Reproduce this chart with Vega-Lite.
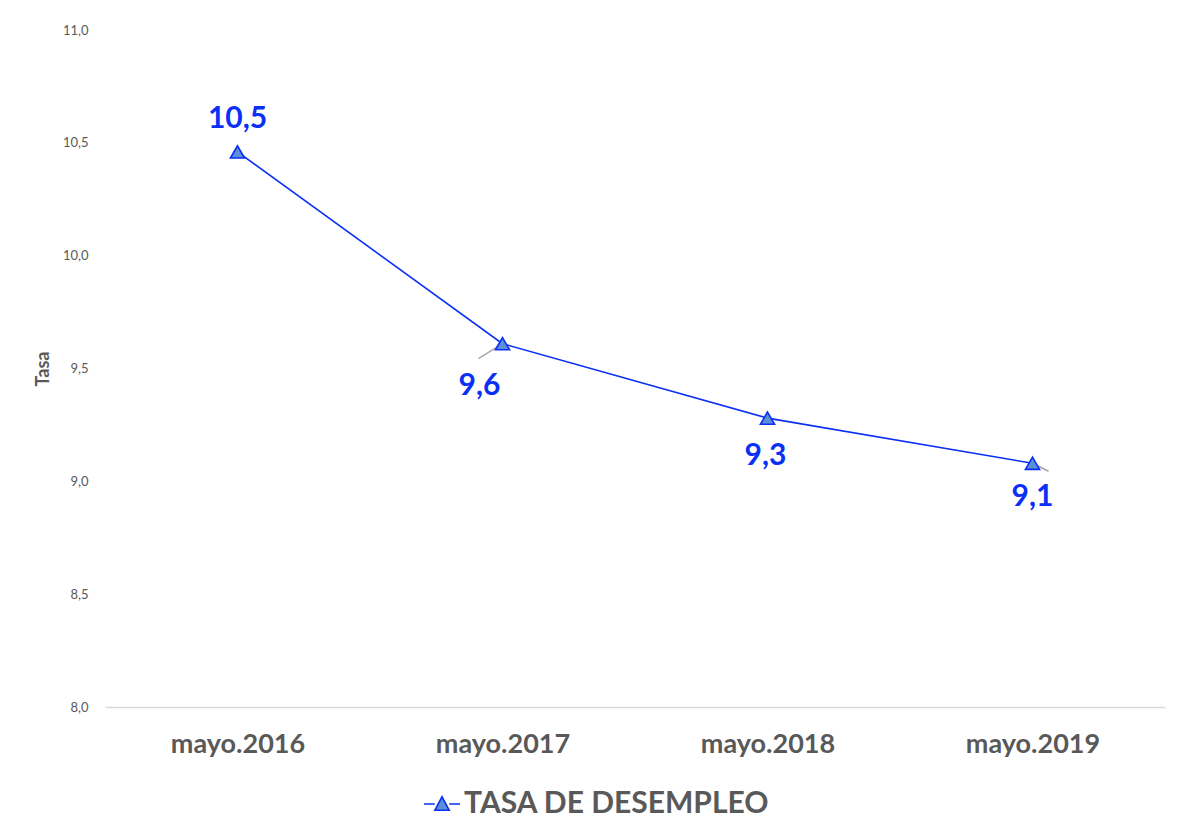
{
  "$schema": "https://vega.github.io/schema/vega-lite/v6.json",
  "width": 1060,
  "height": 677,
  "autosize": {"type": "none"},
  "padding": {"left": 105, "top": 30, "right": 12, "bottom": 126},
  "background": "white",
  "config": {
    "locale": {"number": {"decimal": ",", "thousands": ".", "grouping": [3], "currency": ["", " €"]}},
    "view": {"stroke": null},
    "font": "Lato"
  },
  "data": {
    "values": [
      {"periodo": "mayo.2016", "tasa": 10.46, "serie": "TASA DE DESEMPLEO"},
      {"periodo": "mayo.2017", "tasa": 9.61, "serie": "TASA DE DESEMPLEO"},
      {"periodo": "mayo.2018", "tasa": 9.28, "serie": "TASA DE DESEMPLEO"},
      {"periodo": "mayo.2019", "tasa": 9.08, "serie": "TASA DE DESEMPLEO"}
    ]
  },
  "encoding": {
    "x": {
      "field": "periodo", "type": "nominal", "sort": null,
      "scale": {"type": "point", "padding": 0.5},
      "axis": {
        "title": null, "labelAngle": 0, "ticks": false, "grid": false,
        "domainColor": "#D9D9D9", "domainWidth": 1.5,
        "labelFont": "Lato", "labelFontWeight": "bold", "labelFontSize": 27,
        "labelColor": "#595959", "labelPadding": 24
      }
    },
    "y": {
      "field": "tasa", "type": "quantitative",
      "scale": {"domain": [8, 11], "nice": false, "zero": false},
      "axis": {
        "title": "Tasa", "values": [8, 8.5, 9, 9.5, 10, 10.5, 11], "format": ".1f",
        "grid": false, "domain": false, "ticks": false,
        "labelFont": "Lato", "labelFontSize": 13, "labelColor": "#595959", "labelPadding": 17,
        "titleFont": "Lato", "titleFontWeight": "bold", "titleFontSize": 18, "titleColor": "#595959", "titlePadding": 10
      }
    }
  },
  "layer": [
    {
      "mark": {"type": "line", "strokeWidth": 1.6},
      "encoding": {
        "color": {
          "field": "serie", "type": "nominal",
          "scale": {"range": ["#0A30F5"]},
          "legend": {
            "title": null, "orient": "none", "legendX": 318, "legendY": 755,
            "labelFont": "Lato", "labelFontWeight": "bold", "labelFontSize": 30, "labelColor": "#595959",
            "labelLimit": 0,
            "symbolType": "M-1,0L-0.4,0M0.4,0L1,0M-0.4,0.35L0,-0.4L0.4,0.35Z",
            "symbolSize": 1300, "symbolStrokeWidth": 1.6,
            "symbolFillColor": "#5B8FD6", "symbolStrokeColor": "#0A30F5",
            "labelOffset": 3
          }
        }
      }
    },
    {
      "mark": {"type": "rule", "color": "#A6A6A6", "strokeWidth": 1.5, "x2Offset": -24, "y2Offset": 15},
      "transform": [{"filter": "datum.periodo === 'mayo.2017'"}],
      "encoding": {"x2": {"field": "periodo"}, "y2": {"field": "tasa"}}
    },
    {
      "mark": {"type": "rule", "color": "#A6A6A6", "strokeWidth": 1.5, "x2Offset": 16, "y2Offset": 8},
      "transform": [{"filter": "datum.periodo === 'mayo.2019'"}],
      "encoding": {"x2": {"field": "periodo"}, "y2": {"field": "tasa"}}
    },
    {
      "mark": {"type": "point", "shape": "triangle-up", "filled": true, "size": 200,
               "fill": "#5B8FD6", "stroke": "#0A30F5", "strokeWidth": 1.6, "opacity": 1}
    },
    {
      "transform": [{"filter": "datum.periodo === 'mayo.2016'"}],
      "mark": {"type": "text", "font": "Lato", "fontWeight": "bold", "fontSize": 30, "color": "#0A30F5", "dy": -33, "baseline": "middle"},
      "encoding": {"text": {"field": "tasa", "type": "quantitative", "format": ".1f"}}
    },
    {
      "transform": [{"filter": "datum.periodo === 'mayo.2017'"}],
      "mark": {"type": "text", "font": "Lato", "fontWeight": "bold", "fontSize": 30, "color": "#0A30F5", "dx": -23, "dy": 42, "baseline": "middle"},
      "encoding": {"text": {"field": "tasa", "type": "quantitative", "format": ".1f"}}
    },
    {
      "transform": [{"filter": "datum.periodo === 'mayo.2018'"}],
      "mark": {"type": "text", "font": "Lato", "fontWeight": "bold", "fontSize": 30, "color": "#0A30F5", "dx": -2, "dy": 38, "baseline": "middle"},
      "encoding": {"text": {"field": "tasa", "type": "quantitative", "format": ".1f"}}
    },
    {
      "transform": [{"filter": "datum.periodo === 'mayo.2019'"}],
      "mark": {"type": "text", "font": "Lato", "fontWeight": "bold", "fontSize": 30, "color": "#0A30F5", "dy": 34, "baseline": "middle"},
      "encoding": {"text": {"field": "tasa", "type": "quantitative", "format": ".1f"}}
    }
  ]
}
